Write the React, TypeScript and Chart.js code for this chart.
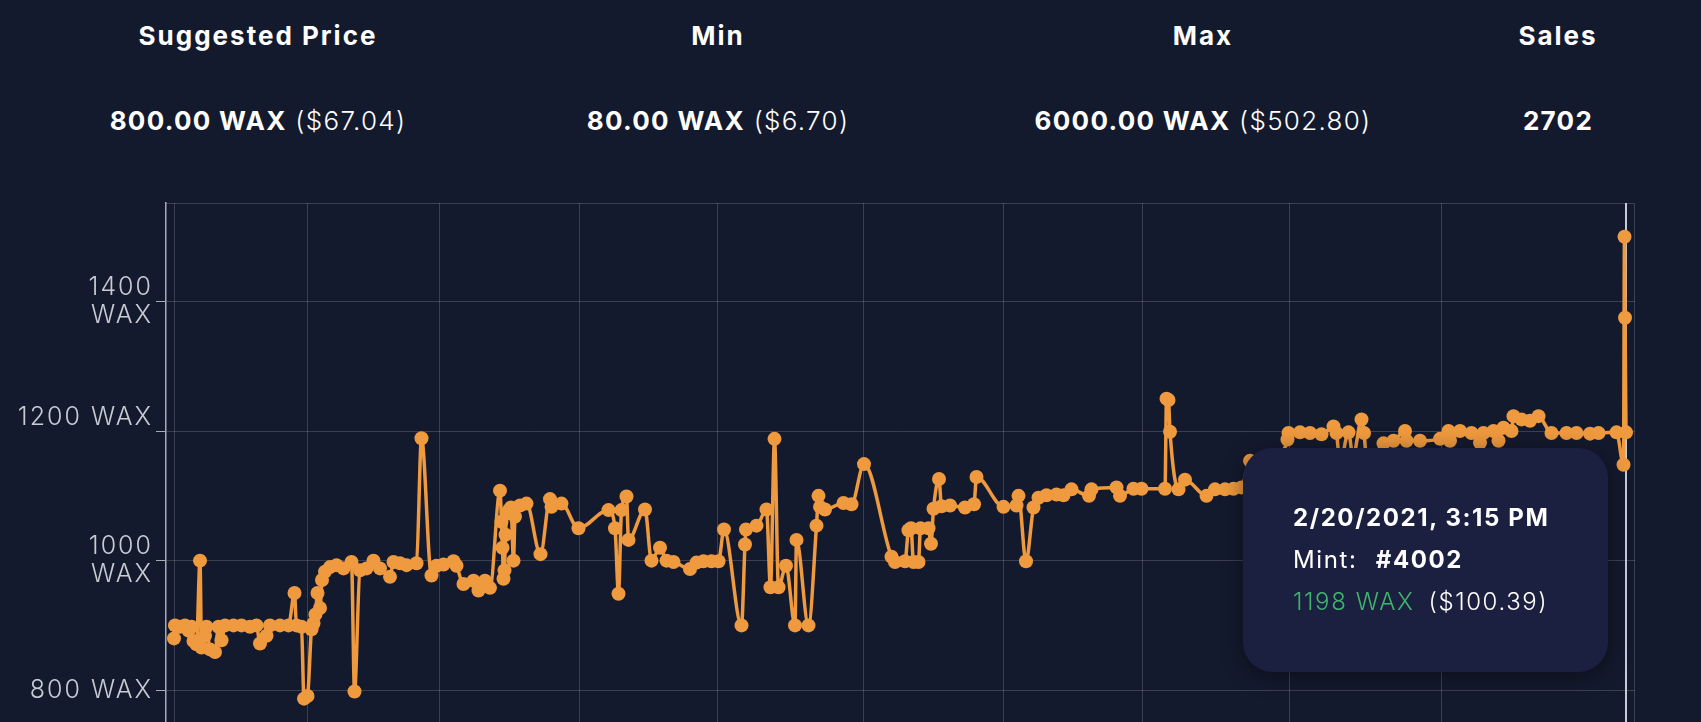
import React, { useEffect, useRef } from "react";
import { Chart, registerables } from "chart.js";

Chart.register(...registerables);

// ---------- data ----------
const WAX_USD = 0.0838;
const suggestedPriceWax = 800;
const minPriceWax = 80;
const maxPriceWax = 6000;
const salesCount = 2702;
const statTitles = ["Suggested Price", "Min", "Max", "Sales"];

// time origin for saleDays (UTC)
const firstSaleTime = Date.UTC(2020, 4, 6, 5, 39);

const saleDays = [
  0.0, 0.2, 1.2, 2.2, 2.9, 3.5, 3.9, 4.5, 5.2, 5.5, 6.2, 6.5, 7.2, 8.2, 8.9, 9.5,
  10.2, 11.9, 13.5, 15.2, 16.5, 17.2, 18.5, 19.2, 21.2, 22.9, 24.1, 24.5, 25.5, 26.0,
  26.7, 27.5, 27.9, 28.3, 28.7, 29.2, 29.6, 30.2, 31.2, 32.5, 33.9, 35.5, 36.1, 37.2,
  38.5, 39.9, 41.2, 43.2, 43.9, 45.2, 46.5, 48.5, 49.5, 51.5, 52.5, 53.9, 55.9, 56.5,
  57.9, 59.9, 60.9, 62.2, 63.2, 65.2, 65.5, 65.7, 65.9, 66.1, 66.3, 66.6, 67.0, 67.4,
  67.9, 68.2, 69.2, 70.5, 73.3, 75.2, 75.5, 77.5, 80.9, 86.9, 88.2, 88.9, 89.5, 90.5,
  90.9, 94.2, 95.5, 97.2, 98.5, 99.9, 103.2, 104.5, 105.9, 107.5, 108.9, 110.0, 113.5,
  114.2, 114.4, 116.5, 118.5, 119.3, 120.1, 120.9, 122.4, 124.2, 124.5, 126.9, 128.5,
  128.9, 129.2, 130.2, 133.9, 135.5, 138.0, 143.5, 144.2, 146.2, 146.9, 147.4, 147.9,
  148.9, 149.3, 150.9, 151.4, 151.9, 153.0, 153.5, 155.2, 158.2, 160.0, 160.5, 165.9,
  168.5, 168.9, 170.4, 171.9, 172.9, 174.5, 176.5, 177.9, 179.5, 183.0, 183.5, 188.5,
  189.2, 191.9, 193.5, 198.2, 198.5, 198.9, 199.2, 200.9, 202.2, 206.5, 208.2, 210.2,
  211.9, 213.5, 215.2, 218.0, 221.0, 222.7, 222.9, 225.2, 227.2, 229.5, 231.9, 232.5,
  233.2, 234.9, 235.8, 237.5, 238.0, 238.6, 241.9, 243.9, 246.2, 246.5, 249.2, 253.2,
  254.9, 255.2, 257.2, 259.5, 261.2, 261.9, 263.9, 264.9, 265.9, 267.5, 267.9, 269.5,
  271.2, 272.9, 275.5, 278.5, 280.5, 283.2, 284.9, 288.5, 289.9, 290.1, 290.2, 290.4,
];

const salePrices = [
  880, 900, 898, 900, 892, 898, 876, 871, 1000, 866, 884, 898, 863, 859, 898, 877,
  900, 900, 900, 898, 900, 872, 884, 900, 900, 900, 950, 900, 898, 787,
  791, 894, 903, 917, 950, 927, 970, 983, 990, 993, 988, 998, 798, 985,
  988, 1000, 988, 975, 998, 996, 993, 996, 1189, 977, 992, 994, 999, 992,
  964, 969, 954, 969, 958, 1108, 1060, 1020, 972, 985, 1040, 1073, 1078, 1082,
  1000, 1068, 1085, 1088, 1010, 1095, 1083, 1088, 1050, 1078, 1050, 949, 1078, 1099,
  1032, 1079, 1000, 1020, 1000, 998, 987, 997, 999, 999, 999, 1048, 900,
  1025, 1048, 1054, 1079, 959, 1188, 959, 992, 900, 1032, 900, 1054,
  1100, 1083, 1079, 1089, 1087, 1149, 1006, 998, 999, 1047, 1050, 998,
  998, 1050, 1050, 1026, 1080, 1126, 1084, 1085, 1082, 1087, 1129, 1083,
  1085, 1100, 999, 1082, 1097, 1101, 1102, 1101, 1110, 1100, 1110, 1113,
  1100, 1111, 1111, 1111, 1250, 1248, 1199, 1110, 1125, 1100, 1110, 1110,
  1111, 1113, 1154, 1150, 1160, 1187, 1197, 1198, 1197, 1195, 1207, 1197,
  1150, 1198, 1160, 1218, 1197, 1150, 1181, 1185, 1200, 1185, 1185, 1188,
  1200, 1185, 1200, 1197, 1182, 1197, 1200, 1185, 1205, 1200, 1223, 1218,
  1216, 1223, 1197, 1197, 1197, 1196, 1197, 1198, 1148, 1500, 1375, 1198,
];

const hoveredIndex = saleDays.length - 1;
const hoveredMint = 4002;

const yTickValues = [800, 1000, 1200, 1400];
const yTickLabels = [["800 WAX"], ["1000", "WAX"], ["1200 WAX", ""], ["1400", "WAX"]];
const xGridDays = [0, 26.6, 53, 81, 108.8, 138, 166, 193.6, 223, 253.4];
const yRange = [700, 1552];
const xRange = [-1.6, 292.2];

// ---------- styles ----------
const BG = "#141a2e";
const ORANGE = "#ef9a3e";
const GRID = "rgba(255,255,255,0.17)";
const FONT = "Inter, 'Open Sans', sans-serif";

const fmtUsd = (wax: number) => (wax * WAX_USD).toFixed(2);

const areaPlugin = {
  id: "areaBorder",
  beforeDraw(chart: any) {
    try {
      chart.ctx.letterSpacing = "2px";
    } catch (e) {
      /* ignore */
    }
  },
  beforeDatasetsDraw(chart: any) {
    const { ctx, chartArea } = chart;
    ctx.save();
    ctx.strokeStyle = GRID;
    ctx.lineWidth = 1;
    ctx.beginPath();
    ctx.moveTo(chartArea.left, chartArea.top + 0.5);
    ctx.lineTo(chartArea.right - 0.5, chartArea.top + 0.5);
    ctx.lineTo(chartArea.right - 0.5, chartArea.bottom);
    ctx.stroke();
    const active = chart.tooltip?.getActiveElements?.() || [];
    if (active.length) {
      const x = active[0].element.x;
      ctx.strokeStyle = "rgba(220,222,230,0.9)";
      ctx.lineWidth = 2;
      ctx.beginPath();
      ctx.moveTo(x, chartArea.top);
      ctx.lineTo(x, chartArea.bottom);
      ctx.stroke();
    }
    ctx.restore();
  },
};

export default function App() {
  const canvasRef = useRef<HTMLCanvasElement | null>(null);
  const tipRef = useRef<HTMLDivElement | null>(null);

  useEffect(() => {
    if (!canvasRef.current) return;
    const points = saleDays.map((d, i) => ({ x: d, y: salePrices[i] }));
    const chart = new Chart(canvasRef.current, {
      type: "line",
      data: {
        datasets: [
          {
            data: points,
            borderColor: ORANGE,
            backgroundColor: ORANGE,
            borderWidth: 3.5,
            pointRadius: 7,
            pointHoverRadius: 7,
            pointBorderWidth: 0,
            pointBackgroundColor: ORANGE,
            cubicInterpolationMode: "monotone",
            fill: false,
          },
        ],
      },
      options: {
        animation: false,
        responsive: true,
        maintainAspectRatio: false,
        events: [],
        layout: { padding: { top: 2, right: 66, bottom: 2, left: 0 } },
        plugins: {
          legend: { display: false },
          tooltip: {
            enabled: false,
            external: ({ tooltip }: any) => {
              const el = tipRef.current;
              if (!el) return;
              if (!tooltip || tooltip.opacity === 0 || !tooltip.dataPoints?.length) {
                el.style.opacity = "0";
                return;
              }
              const dp = tooltip.dataPoints[0];
              const idx = dp.dataIndex;
              const when = new Date(firstSaleTime + saleDays[idx] * 86400000).toLocaleString("en-US", {
                timeZone: "UTC",
                month: "numeric",
                day: "numeric",
                year: "numeric",
                hour: "numeric",
                minute: "2-digit",
              });
              const price = salePrices[idx];
              const mint = idx === hoveredIndex ? hoveredMint : "";
              el.innerHTML =
                `<div style="font-weight:700">${when}</div>` +
                `<div>Mint: <span style="font-weight:700;margin-left:10px">#${mint}</span></div>` +
                `<div><span style="color:#3fb56c;font-weight:300">${price} WAX</span><span style="margin-left:14px;font-weight:300">($${fmtUsd(price)})</span></div>`;
              el.style.opacity = "1";
              el.style.left = tooltip.caretX - 18 - 365 + "px";
              el.style.top = tooltip.caretY + 16 + "px";
            },
          },
        },
        scales: {
          x: {
            type: "linear",
            min: xRange[0],
            max: xRange[1],
            afterBuildTicks: (scale: any) => {
              scale.ticks = xGridDays.map((v) => ({ value: v }));
            },
            ticks: { display: false },
            grid: { color: GRID, drawTicks: false, lineWidth: 1 },
            border: { display: false },
          },
          y: {
            type: "linear",
            min: yRange[0],
            max: yRange[1],
            afterBuildTicks: (scale: any) => {
              scale.ticks = yTickValues.map((v) => ({ value: v }));
            },
            afterFit: (scale: any) => {
              scale.width = 166;
              scale.paddingTop = 0;
              scale.paddingBottom = 0;
            },
            ticks: {
              color: "#c9cbd2",
              padding: 3,
              font: { family: FONT, size: 25, weight: 300, lineHeight: 1.1 },
              callback: (value: any) => {
                const i = yTickValues.indexOf(Number(value));
                return i >= 0 ? yTickLabels[i] : "";
              },
            },
            grid: { color: GRID, tickColor: "#a7aab4", tickLength: 10, lineWidth: 1 },
            border: { display: true, color: "#a7aab4", width: 1.5 },
          },
        },
      },
      plugins: [areaPlugin],
    });
    chart.tooltip?.setActiveElements([{ datasetIndex: 0, index: hoveredIndex }], { x: 0, y: 0 });
    chart.draw();
    return () => chart.destroy();
  }, []);

  const statCenters = [258, 718, 1203, 1558];
  const light = { fontWeight: 300 };
  const statValues: React.ReactNode[] = [
    <>
      <b>{suggestedPriceWax.toFixed(2)} WAX</b> <span style={light}>(${fmtUsd(suggestedPriceWax)})</span>
    </>,
    <>
      <b>{minPriceWax.toFixed(2)} WAX</b> <span style={light}>(${fmtUsd(minPriceWax)})</span>
    </>,
    <>
      <b>{maxPriceWax.toFixed(2)} WAX</b> <span style={light}>(${fmtUsd(maxPriceWax)})</span>
    </>,
    <b>{salesCount}</b>,
  ];

  return (
    <div
      style={{
        position: "relative",
        width: 1701,
        height: 722,
        overflow: "hidden",
        background: BG,
        color: "#ffffff",
        fontFamily: FONT,
      }}
    >
      <style>{`html,body{margin:0;padding:0;background:${BG};overflow:hidden;}`}</style>
      {statTitles.map((t, i) => (
        <div
          key={t}
          style={{
            position: "absolute",
            left: statCenters[i],
            top: 20,
            transform: "translateX(-50%)",
            textAlign: "center",
            whiteSpace: "nowrap",
          }}
        >
          <div style={{ fontWeight: 700, fontSize: 26, lineHeight: "32px", letterSpacing: "2px" }}>{t}</div>
          <div style={{ marginTop: 53, fontSize: 26, lineHeight: "32px", letterSpacing: "1.3px" }}>
            {statValues[i]}
          </div>
        </div>
      ))}
      <div style={{ position: "absolute", left: 0, top: 196, width: 1701, height: 566 }}>
        <canvas ref={canvasRef} />
        <div
          ref={tipRef}
          style={{
            position: "absolute",
            opacity: 0,
            width: 365,
            height: 224,
            boxSizing: "border-box",
            padding: "49px 0 0 50px",
            background: "#1c2040",
            borderRadius: 30,
            boxShadow: "0 4px 22px rgba(0,0,0,0.45)",
            color: "#ffffff",
            fontSize: 24,
            lineHeight: "42px",
            letterSpacing: "1.6px",
            whiteSpace: "nowrap",
            pointerEvents: "none",
          }}
        />
      </div>
    </div>
  );
}
